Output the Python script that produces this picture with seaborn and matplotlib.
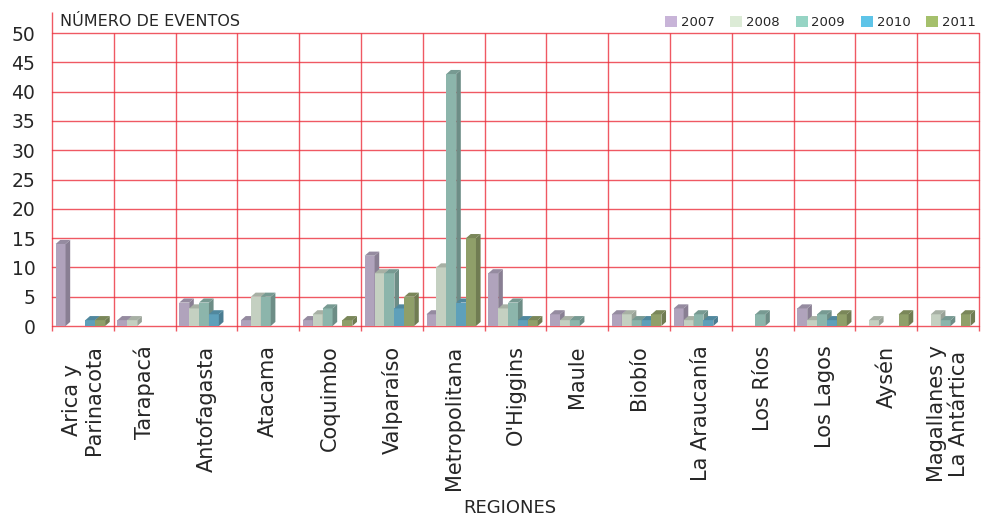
import numpy as np
import pandas as pd
import seaborn as sns
import matplotlib.pyplot as plt
import matplotlib.colors as mcolors
from matplotlib.patches import Polygon, Patch

# Data
regions = ['Arica y\nParinacota', 'Tarapacá', 'Antofagasta', 'Atacama', 'Coquimbo',
           'Valparaíso', 'Metropolitana', "O'Higgins", 'Maule', 'Biobío',
           'La Araucanía', 'Los Ríos', 'Los Lagos', 'Aysén', 'Magallanes y\nLa Antártica']
years = ['2007', '2008', '2009', '2010', '2011']
v2007 = [14, 1, 4, 1, 1, 12, 2, 9, 2, 2, 3, 0, 3, 0, 0]
v2008 = [0, 1, 3, 5, 2, 9, 10, 3, 1, 2, 1, 0, 1, 1, 2]
v2009 = [0, 0, 4, 5, 3, 9, 43, 4, 1, 1, 2, 2, 2, 0, 1]
v2010 = [1, 0, 2, 0, 0, 3, 4, 1, 0, 1, 1, 0, 1, 0, 0]
v2011 = [1, 0, 0, 0, 1, 5, 15, 1, 0, 2, 0, 0, 2, 2, 2]

bar_colors = ['#b09fc0', '#c3d2bf', '#85bcaf', '#4fa6c9', '#93a860']
legend_colors = ['#c8b4d8', '#dcebd6', '#96d4c4', '#5ec4e8', '#a5c06c']
grid_red = '#ec2f3c'

df = pd.DataFrame({'region': regions * 5,
                   'year': np.repeat(years, len(regions)),
                   'value': v2007 + v2008 + v2009 + v2010 + v2011})

sns.set_style('white')
plt.rcParams['font.family'] = ['DejaVu Sans']

fig = plt.figure(figsize=(9.84, 5.17), dpi=100)
ax = fig.add_axes([0.0528, 0.3694, 0.9422, 0.5667])

sns.barplot(data=df, x='region', y='value', hue='year', palette=bar_colors,
            width=0.8, gap=0, linewidth=0, ax=ax, legend=False)

ax.set_xlim(-0.5, len(regions) - 0.5)
ax.set_ylim(0, 50)

# fake 3D faces on each bar
dx, dy = 0.075, 0.7
shift = -0.04
for p in ax.patches:
    h = p.get_height()
    if h <= 0 or np.isnan(h):
        p.set_visible(False)
        continue
    p.set_x(p.get_x() + shift)
    x0, w = p.get_x(), p.get_width()
    z = 3 + x0 * 0.01
    p.set_zorder(z)
    rgb = np.array(mcolors.to_rgb(p.get_facecolor()))
    side = Polygon([(x0 + w, 0), (x0 + w + dx, dy), (x0 + w + dx, h + dy), (x0 + w, h)],
                   closed=True, facecolor=rgb * 0.78, edgecolor='none', zorder=z)
    top = Polygon([(x0, h), (x0 + dx, h + dy), (x0 + w + dx, h + dy), (x0 + w, h)],
                  closed=True, facecolor=rgb * 0.85, edgecolor='none', zorder=z)
    ax.add_patch(side)
    ax.add_patch(top)

# grid
ax.set_yticks(range(0, 51, 5))
for y in range(0, 51, 5):
    ax.axhline(y, color=grid_red, lw=1, alpha=0.8, zorder=1, clip_on=False)
bounds = np.arange(len(regions) + 1) - 0.5
ax.vlines(bounds, -0.8, 50, color=grid_red, lw=1, alpha=0.8, zorder=1, clip_on=False)
ax.vlines([-0.5], 50, 53.6, color=grid_red, lw=1, alpha=0.8, zorder=1, clip_on=False)

for s in ax.spines.values():
    s.set_visible(False)
ax.tick_params(axis='both', length=0)
ax.tick_params(axis='y', labelsize=13.5, pad=12)
ax.tick_params(axis='x', labelsize=15, pad=14)
ax.set_xticks(range(len(regions)))
ax.set_xticklabels(regions, rotation=90, ha='center', va='top', multialignment='center',
                   linespacing=1.15)
ax.set_xlabel('')
ax.set_ylabel('')

fig.text(0.0605, 0.958, 'NÚMERO DE EVENTOS', fontsize=11.5, ha='left', va='center')
fig.text(0.518, 0.018, 'REGIONES', fontsize=13, ha='center', va='center')

handles = [Patch(facecolor=c, edgecolor='none') for c in legend_colors]
fig.legend(handles, years, loc='upper right', bbox_to_anchor=(1.0, 0.985), ncol=5,
           frameon=False, fontsize=9.5, handlelength=0.9, handleheight=0.9,
           handletextpad=0.3, columnspacing=1.2, borderaxespad=0.2)

fig.savefig('out.png', dpi=100)
